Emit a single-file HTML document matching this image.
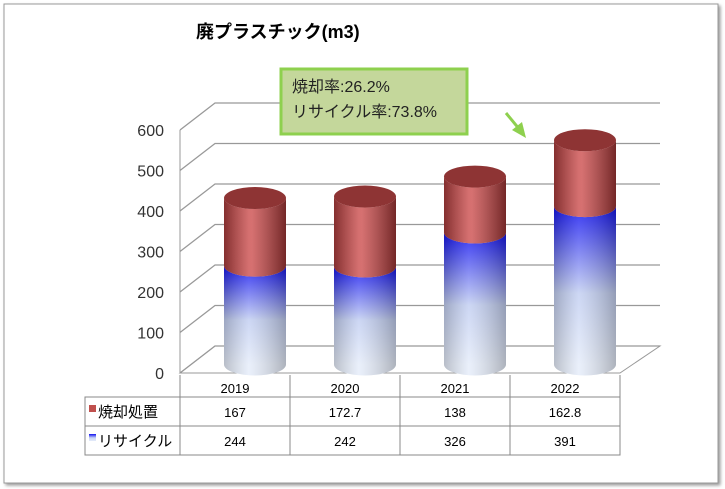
<!DOCTYPE html>
<html><head><meta charset="utf-8"><style>
body{margin:0;background:#fff;font-family:"Liberation Sans","Noto Sans CJK JP",sans-serif;}
svg{display:block}
</style></head><body>
<svg width="725" height="489" viewBox="0 0 725 489">
<defs>
<linearGradient id="red" x1="0" x2="1" y1="0" y2="0"><stop offset="0" stop-color="#a53a3a"/><stop offset="0.45" stop-color="#d25a5a"/><stop offset="1" stop-color="#9a3434"/></linearGradient>
<linearGradient id="blueV" x1="0" x2="0" y1="0" y2="1"><stop offset="0" stop-color="#1010f0"/><stop offset="0.55" stop-color="#c8d4f4"/><stop offset="1" stop-color="#e4ecfa"/></linearGradient>
<linearGradient id="shade" x1="0" x2="1" y1="0" y2="0"><stop offset="0" stop-color="#000" stop-opacity="0.2"/><stop offset="0.4" stop-color="#fff" stop-opacity="0.15"/><stop offset="1" stop-color="#000" stop-opacity="0.25"/></linearGradient>
<filter id="sh"><feDropShadow dx="2" dy="2" stdDeviation="1.5" flood-color="#999"/></filter>
</defs>
<rect x="4" y="4" width="714" height="479" fill="#fff" stroke="#999" filter="url(#sh)"/>
<text x="196" y="38" font-size="18" font-weight="bold" fill="#000">廃プラスチック(m3)</text>
<g id="grid"></g>
<g id="bars"></g>
<g id="table"></g>
<g>
<rect x="281" y="69" width="186" height="65" fill="#c4d79b" stroke="#8ed04e" stroke-width="3"/>
<text x="292" y="92" font-size="16" fill="#222">焼却率:26.2%</text>
<text x="292" y="117" font-size="16" fill="#222">リサイクル率:73.8%</text>
<line x1="506" y1="113" x2="520" y2="130" stroke="#8ed04e" stroke-width="3"/>
<polygon points="526,138 512,130 522,122" fill="#8ed04e"/>
</g>
</svg>
<script>
const categories=["2019","2020","2021","2022"];
const burnValues=[167,172.7,138,162.8];
const recycleValues=[244,242,326,391];
const burnLabels=["167","172.7","138","162.8"];
const recycleLabels=["244","242","326","391"];
const yTicks=[0,100,200,300,400,500,600];
const NS="http://www.w3.org/2000/svg";
function mk(t,a,p){const e=document.createElementNS(NS,t);for(const k in a)e.setAttribute(k,a[k]);p.appendChild(e);return e;}
const X0=180,X1=620,Y0=373,K=243/600,DX=35,DY=-27;
function yv(v){return Y0-v*K;}
function xc(i){return X0+(X1-X0)/categories.length*(i+0.5);}
const grid=document.getElementById('grid');
mk('polygon',{points:`${X0},${Y0} ${X0+DX},${Y0+DY} ${X1+DX+5},${Y0+DY} ${X1},${Y0}`,fill:"#fff",stroke:"#999"},grid);
yTicks.forEach(t=>{const y=yv(t);
 const g=mk('g',{},grid);
 
 
 mk('polyline',{points:`${X0},${y} ${X0+DX},${y+DY} ${X1+DX+5},${y+DY}`,fill:"none",stroke:"#999","stroke-width":1.3},g);
 const tx=mk('text',{x:X0-16,y:y+6,"text-anchor":"end","font-size":16,fill:"#333"},g);tx.textContent=t;
 
 
});
mk('line',{x1:X0,y1:Y0,x2:X0,y2:yv(600),stroke:"#999"},grid);
const bars=document.getElementById('bars');
const RX=31,RY=11,MY=DY/2;
function cyl(cx,yb,yt,fill,top,name){
 const g=mk('g',{},bars);
 
 
 const d=`M${cx-RX},${yt} L${cx-RX},${yb} A${RX},${RY} 0 0 0 ${cx+RX},${yb} L${cx+RX},${yt} A${RX},${RY} 0 0 1 ${cx-RX},${yt}Z`;
 mk('path',{d,fill},g);mk('path',{d,fill:"url(#shade)"},g);
 if(top)mk('ellipse',{cx,cy:yt,rx:RX,ry:RY,fill:"#8e3434"},g);
}
categories.forEach((c,i)=>{
 const cx=xc(i)+20, base=yv(0)+MY+5, s=K;
 const yr=base-recycleValues[i]*s, yb=yr-burnValues[i]*s;
 const gid='url(#bg'+i+')';
 const lg=mk('linearGradient',{id:'bg'+i,gradientUnits:"userSpaceOnUse",x1:0,x2:0,y1:yr,y2:base},document.querySelector('defs'));
 mk('stop',{offset:0,"stop-color":"#1212f0"},lg);mk('stop',{offset:0.55,"stop-color":"#c4d0f2"},lg);mk('stop',{offset:1,"stop-color":"#e6edfa"},lg);
 cyl(cx,base,yr,gid,false,'bar-recycle-'+c);
 cyl(cx,yr,yb,"url(#red)",true,'bar-burn-'+c);
});
const tb=document.getElementById('table');
const cw=(X1-X0)/categories.length;
mk('rect',{x:85,y:397,width:X1-85,height:58,fill:"none",stroke:"#888"},tb);
mk('line',{x1:X0,y1:375,x2:X0,y2:455,stroke:"#888"},tb);
mk('line',{x1:X1,y1:375,x2:X1,y2:455,stroke:"#888"},tb);
mk('line',{x1:85,y1:426,x2:X1,y2:426,stroke:"#888"},tb);
categories.forEach((c,i)=>{
 const x=X0+cw*i;
 if(i>0)mk('line',{x1:x,y1:375,x2:x,y2:455,stroke:"#888"},tb);
 const t=mk('text',{x:x+cw/2,y:393,"text-anchor":"middle","font-size":13},tb);t.textContent=c;
 
 
 const a=mk('text',{x:x+cw/2,y:417,"text-anchor":"middle","font-size":13},tb);a.textContent=burnLabels[i];
 
 
 const b=mk('text',{x:x+cw/2,y:446,"text-anchor":"middle","font-size":13},tb);b.textContent=recycleLabels[i];
 
 
});
mk('rect',{x:89,y:405,width:7,height:7,fill:"#c0504d"},tb);
const l1=mk('text',{x:98,y:417,"font-size":15},tb);l1.textContent="焼却処置";


mk('rect',{x:89,y:434,width:7,height:7,fill:"url(#blueV)"},tb);
const l2=mk('text',{x:98,y:446,"font-size":15},tb);l2.textContent="リサイクル";


</script>
</body></html>
